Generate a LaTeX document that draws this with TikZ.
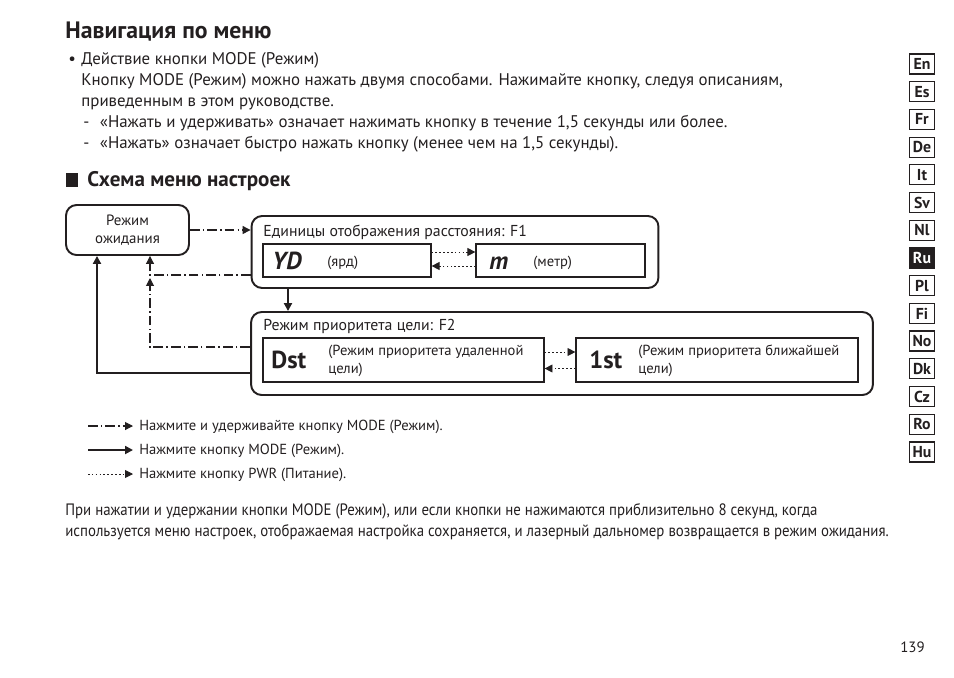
\documentclass[tikz,border=0pt]{standalone}
\usepackage{fontspec}
\setmainfont{PT Sans}
\newfontfamily\condfont[FakeStretch=0.9]{PT Sans}
\usepackage{xcolor}
\usepackage{tikz}
\usetikzlibrary{arrows.meta, positioning}
\definecolor{RU_INK}{HTML}{231F20}
\tikzset{
  txt/.style={anchor=base west, inner sep=0pt, text=RU_INK},
  menubox/.style={
    rectangle, rounded corners=6pt, draw=RU_INK, line width=1.1pt,
    inner sep=0pt},
  optbox/.style={
    rectangle, draw=RU_INK, line width=0.7pt, inner sep=0pt},
  langtab/.style={
    rectangle, draw=RU_INK, line width=0.7pt, inner sep=0pt,
    minimum width=0.5cm, minimum height=0.4cm,
    text=RU_INK, font=\bfseries\fontsize{9}{10}\selectfont},
  langon/.style={langtab, fill=RU_INK, text=white},
  holdarr/.style={-{Triangle[length=4.5pt,width=4.5pt]}, line width=0.6pt,
    color=RU_INK, dash pattern=on 5.5pt off 1.8pt on 0.8pt off 1.8pt},
  pressarr/.style={-{Triangle[length=4.5pt,width=4.5pt]}, line width=1.1pt,
    color=RU_INK},
  pwrarr/.style={-{Triangle[length=4.5pt,width=4.5pt]}, line width=0.5pt,
    color=RU_INK, dash pattern=on 0.9pt off 1.3pt},
  big/.style={txt, font=\bfseries\itshape\fontsize{14}{15}\selectfont},
  note/.style={txt, font=\fontsize{8.3}{10}\selectfont},
}
\newcommand{\bodyfont}{\fontsize{9.6}{11}\selectfont}

\begin{document}
\begin{tikzpicture}[x=0.02cm, y=-0.02cm]
  \useasboundingbox (0,0) rectangle (954,677);

  % heading and intro
  \node[txt, font=\bfseries\fontsize{13.5}{15}\selectfont] (title) at (65,38) {Навигация по меню};
  \node[txt, font=\bodyfont] (bul) at (68,64) {•};
  \node[txt, font=\bodyfont] (l1) at (81,64) {Действие кнопки MODE (Режим)};
  \node[txt, font=\bodyfont] (l2) at (81,85) {Кнопку MODE (Режим) можно нажать двумя способами. Нажимайте кнопку, следуя описаниям,};
  \node[txt, font=\bodyfont] (l3) at (81,106) {приведенным в этом руководстве.};
  \node[txt, font=\bodyfont] (l4) at (83,127) {-\hspace{6pt}«Нажать и удерживать» означает нажимать кнопку в течение 1,5 секунды или более.};
  \node[txt, font=\bodyfont] (l5) at (83,148) {-\hspace{6pt}«Нажать» означает быстро нажать кнопку (менее чем на 1,5 секунды).};

  \node[rectangle, fill=RU_INK, minimum width=0.24cm, minimum height=0.28cm,
    inner sep=0pt] (secmark) at (72,180) {};
  \node[txt, font=\bfseries\fontsize{12}{13}\selectfont] (sec) at (87,186) {Схема меню настроек};

  % menu boxes
  \node[menubox, minimum width=2.46cm, minimum height=1.0cm, align=center,
    text=RU_INK, font=\fontsize{8.5}{10}\selectfont] (standby) at (127.5,230) {Режим\\ожидания};

  \node[menubox, minimum width=8.14cm, minimum height=1.44cm] (f1) at (455,252) {};
  \node[txt, font=\fontsize{9}{10}\selectfont] (f1t) at (263,236) {Единицы отображения расстояния: F1};
  \node[optbox, minimum width=3.36cm, minimum height=0.66cm] (yd) at (347,260.5) {};
  \node[big] (ydt) at (272,269) {YD};
  \node[note] (ydn) at (327,266) {(ярд)};
  \node[optbox, minimum width=3.38cm, minimum height=0.66cm] (m) at (560.5,260.5) {};
  \node[big] (mt) at (489,269) {m};
  \node[note] (mn) at (533,266) {(метр)};

  \node[menubox, minimum width=12.44cm, minimum height=1.66cm] (f2) at (562,353.5) {};
  \node[txt, font=\fontsize{9}{10}\selectfont] (f2t) at (263,330) {Режим приоритета цели: F2};
  \node[optbox, minimum width=5.62cm, minimum height=0.88cm] (dst) at (403.5,360) {};
  \node[txt, font=\bfseries\fontsize{14}{15}\selectfont] (dstt) at (271,368) {Dst};
  \node[note, align=left, anchor=north west] (dstn) at (328,345) {(Режим приоритета удаленной\\цели)};
  \node[optbox, minimum width=5.64cm, minimum height=0.88cm] (first) at (717,360) {};
  \node[txt, font=\bfseries\fontsize{14}{15}\selectfont] (firstt) at (589,368) {1st};
  \node[note, align=left, anchor=north west] (firstn) at (638,345) {(Режим приоритета ближайшей\\цели)};

  % connectors
  \coordinate (colF) at (288,300);
  \coordinate (rtA) at (150,275);
  \coordinate (rtB) at (150,347);
  \coordinate (rtC) at (97,373);

  \draw[holdarr] (standby.east) -- (standby.east -| f1.west);
  \draw[pressarr] (f1.south -| colF) -- (f2.north -| colF);
  \draw[pwrarr] ([yshift=0.17cm]yd.east) -- ([yshift=0.17cm]m.west);
  \draw[pwrarr] ([yshift=-0.11cm]m.west) -- ([yshift=-0.11cm]yd.east);
  \draw[pwrarr] ([yshift=0.16cm]dst.east) -- ([yshift=0.16cm]first.west);
  \draw[pwrarr] ([yshift=-0.17cm]first.west) -- ([yshift=-0.17cm]dst.east);
  \draw[holdarr] (f1.west |- rtA) -- (rtA) -- (rtA |- standby.south);
  \draw[holdarr] (f2.west |- rtB) -- (rtB) -- ([yshift=-0.06cm]rtA);
  \draw[pressarr] (f2.west |- rtC) -- (rtC) -- (rtC |- standby.south);

  % legend
  \node[note] (leg1) at (139,430) {Нажмите и удерживайте кнопку MODE (Режим).};
  \node[note] (leg2) at (139,454) {Нажмите кнопку MODE (Режим).};
  \node[note] (leg3) at (139,478) {Нажмите кнопку PWR (Питание).};
  \coordinate (lgA) at (88,426);
  \coordinate (lgB) at (88,450);
  \coordinate (lgC) at (88,474);
  \draw[holdarr, shorten >=0.12cm] (lgA) -- (lgA -| leg1.west);
  \draw[pressarr, shorten >=0.12cm] (lgB) -- (lgB -| leg2.west);
  \draw[pwrarr, shorten >=0.12cm] (lgC) -- (lgC -| leg3.west);

  % closing paragraph
  \node[txt, font=\condfont\fontsize{9.4}{11}\selectfont] (p1) at (65,515) {При нажатии и удержании кнопки MODE (Режим), или если кнопки не нажимаются приблизительно 8 секунд, когда};
  \node[txt, font=\condfont\fontsize{9.4}{11}\selectfont] (p2) at (65,536) {используется меню настроек, отображаемая настройка сохраняется, и лазерный дальномер возвращается в режим ожидания.};

  % language tabs
  \foreach \lang/\sty [count=\i] in {En/langtab, Es/langtab, Fr/langtab, De/langtab,
      It/langtab, Sv/langtab, Nl/langtab, Ru/langon, Pl/langtab, Fi/langtab,
      No/langtab, Dk/langtab, Cz/langtab, Ro/langtab, Hu/langtab}
    \node[\sty] (tab\i) at (922, {64+(\i-1)*27.71}) {\lang};

  \node[txt, font=\fontsize{8.5}{9}\selectfont] (pg) at (900,652) {139};
\end{tikzpicture}
\end{document}
